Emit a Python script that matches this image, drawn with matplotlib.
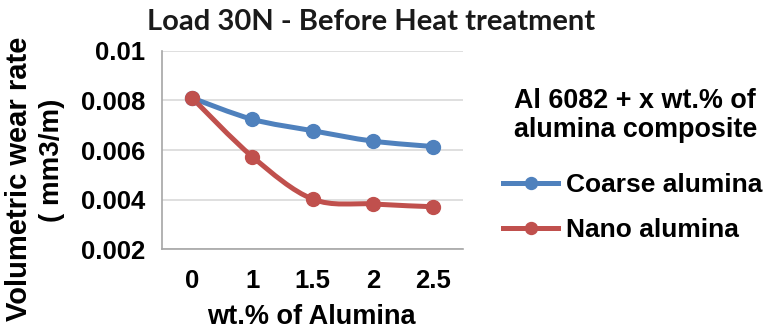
import matplotlib
matplotlib.use('Agg')
import matplotlib.pyplot as plt
from matplotlib.path import Path
from matplotlib.patches import PathPatch
from matplotlib.lines import Line2D

categories = ['0', '1', '1.5', '2', '2.5']
coarse = [0.0081, 0.00724, 0.00678, 0.00636, 0.00614]
nano = [0.0081, 0.00573, 0.00402, 0.00382, 0.00371]

blue = '#4F81BD'
red = '#C0504D'
arial = 'Liberation Sans'


def smooth_path(xs, ys):
    # Catmull-Rom style Bezier segments, like Excel's "smoothed line"
    pts = list(zip(xs, ys))
    verts = [pts[0]]
    codes = [Path.MOVETO]
    n = len(pts)
    for i in range(n - 1):
        p0 = pts[i - 1] if i > 0 else pts[i]
        p1 = pts[i]
        p2 = pts[i + 1]
        p3 = pts[i + 2] if i + 2 < n else pts[i + 1]
        c1 = (p1[0] + (p2[0] - p0[0]) / 6, p1[1] + (p2[1] - p0[1]) / 6)
        c2 = (p2[0] - (p3[0] - p1[0]) / 6, p2[1] - (p3[1] - p1[1]) / 6)
        verts += [c1, c2, p2]
        codes += [Path.CURVE4] * 3
    return Path(verts, codes)


fig = plt.figure(figsize=(7.68, 3.33), dpi=100)
ax = fig.add_axes([0.211, 0.252, 0.392, 0.595])

x = list(range(len(categories)))
for vals, col in [(coarse, blue), (nano, red)]:
    ax.add_patch(PathPatch(smooth_path(x, vals), facecolor='none', edgecolor=col,
                           lw=3.6, capstyle='round', joinstyle='round', zorder=3))
    ax.plot(x, vals, 'o', color=col, markersize=10, zorder=4)

ax.set_xlim(-0.5, 4.5)
ax.set_ylim(0.002, 0.01)
ax.set_yticks([0.002, 0.004, 0.006, 0.008, 0.01])
ax.set_yticklabels(['0.002', '0.004', '0.006', '0.008', '0.01'])
ax.set_xticks(x)
ax.set_xticklabels(categories)
ax.tick_params(length=0, labelsize=18.5)
ax.tick_params(axis='x', pad=14)
ax.tick_params(axis='y', pad=12)
for lab in ax.get_xticklabels() + ax.get_yticklabels():
    lab.set_fontweight('bold')
    lab.set_family(arial)
ax.grid(axis='y', color='#D9D9D9', lw=1.2)
ax.set_axisbelow(True)
for s in ['top', 'right']:
    ax.spines[s].set_visible(False)
for s in ['left', 'bottom']:
    ax.spines[s].set_color('#A6A6A6')
    ax.spines[s].set_linewidth(1.2)

fig.text(0.483, 0.91, 'Load 30N - Before Heat treatment', ha='center', va='baseline',
         fontsize=21, fontweight='bold', family='Lato', color='#1a1a1a')
fig.text(0.025, 0.462, 'Volumetric wear rate', rotation=90, ha='center', va='center',
         fontsize=21, fontweight='bold', family=arial)
fig.text(0.068, 0.52, '( mm3/m)', rotation=90, ha='center', va='center',
         fontsize=20, fontweight='bold', family=arial)
fig.text(0.406, 0.048, 'wt.% of Alumina', ha='center', va='center',
         fontsize=19.5, fontweight='bold', family=arial)

fig.text(0.827, 0.652, 'Al 6082 + x wt.% of\nalumina composite', ha='center', va='center',
         fontsize=19.4, fontweight='bold', family=arial, linespacing=1.15)
handles = [Line2D([], [], color=blue, lw=3.6, marker='o', markersize=8.6),
           Line2D([], [], color=red, lw=3.6, marker='o', markersize=8.6)]
fig.legend(handles, ['Coarse alumina', 'Nano alumina'], loc='center left',
           bbox_to_anchor=(0.655, 0.377), frameon=False, handlelength=2.1,
           handletextpad=0.27, labelspacing=0.78, borderpad=0, borderaxespad=0,
           prop={'family': arial, 'size': 19, 'weight': 'bold'})

fig.savefig('out.png', dpi=100)
